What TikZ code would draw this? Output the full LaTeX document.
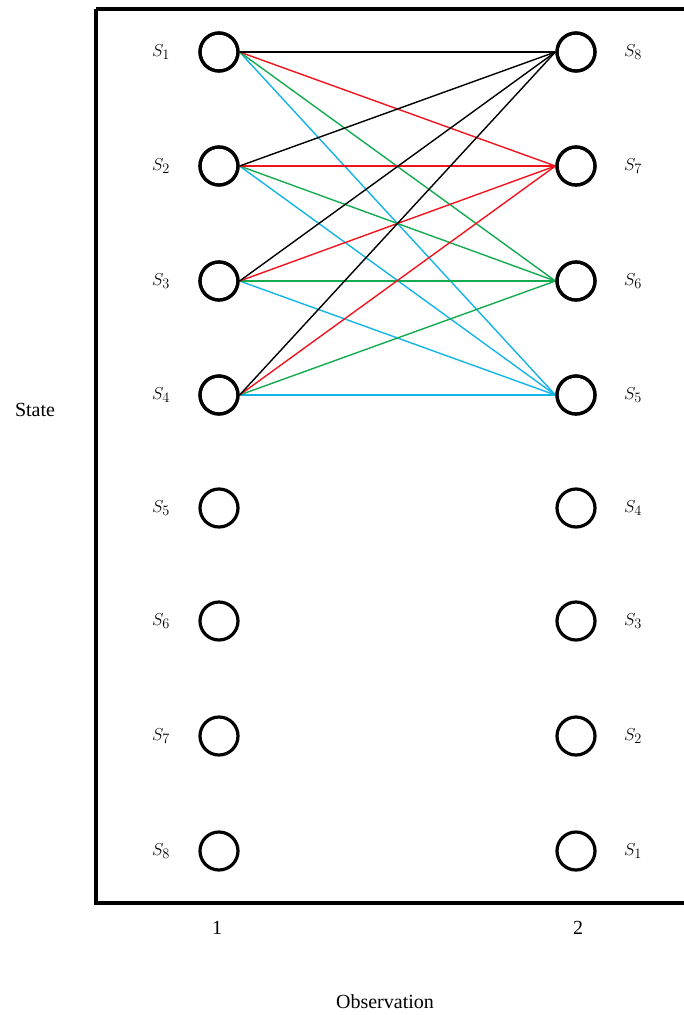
\documentclass[tikz,border=0pt]{standalone}
\usepackage{fontspec}
\setmainfont{Liberation Serif}
\begin{document}
\begin{tikzpicture}[x=1pt,y=-1pt,
  st/.style={circle,draw=black,line width=3.2pt,minimum size=38pt,inner sep=0pt},
  lab/.style={font=\fontsize{20}{24}\selectfont},
  slab/.style={font=\fontsize{19}{22}\selectfont},
  conn/.style={line width=1.4pt},
  ck/.style={conn,draw=black},
  cr/.style={conn,draw={rgb,255:red,240;green,20;blue,30}},
  cg/.style={conn,draw={rgb,255:red,20;green,170;blue,80}},
  cb/.style={conn,draw={rgb,255:red,20;green,180;blue,230}}]
\useasboundingbox (0,0) rectangle (684,1015);
\draw[line width=3.2pt] (96,9) -- (700,9) (96,9) -- (96,903) -- (700,903);
\foreach \i/\y in {1/52,2/166,3/281,4/395,5/508,6/621,7/736,8/851}{
  \node[st] (L\i) at (219,\y) {};
  \node[slab] (LL\i) at (161,\y) {$S_{\i}$};
}
\foreach \i/\y in {8/52,7/166,6/281,5/395,4/508,3/621,2/736,1/851}{
  \node[st] (R\i) at (576,\y) {};
  \node[slab] (RL\i) at (633,\y) {$S_{\i}$};
}
\foreach \i in {1,2,3,4}{
  \draw[cb] (L\i.east) -- (R5.west);
  \draw[cg] (L\i.east) -- (R6.west);
  \draw[cr] (L\i.east) -- (R7.west);
  \draw[ck] (L\i.east) -- (R8.west);
}
\foreach \i in {1,2,3,4}{
  \node[st] at (L\i) {};
}
\foreach \i in {5,6,7,8}{
  \node[st] at (R\i) {};
}
\node[lab] (state) at (35,410) {State};
\node[lab] (o1) at (217,928) {1};
\node[lab] (o2) at (578,928) {2};
\node[lab] (obs) at (385,1002) {Observation};
\end{tikzpicture}
\end{document}
